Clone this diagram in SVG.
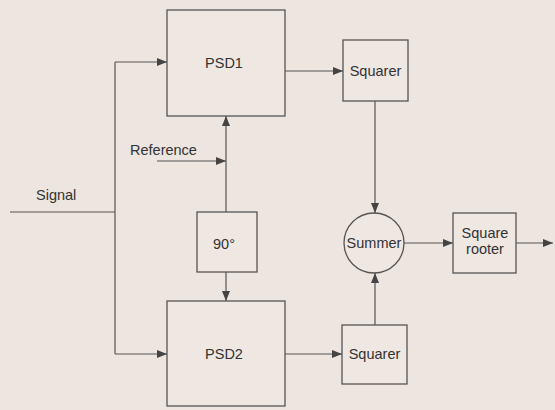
<svg xmlns="http://www.w3.org/2000/svg" width="555" height="410" viewBox="0 0 555 410">
<defs>
<marker id="arr" viewBox="0 0 10 8" refX="10" refY="4" markerWidth="10" markerHeight="8" markerUnits="userSpaceOnUse" orient="auto">
<path d="M0,0 L10,4 L0,8 Z" fill="#444"/>
</marker>
<style>
.box{fill:#eee7e2;stroke:#555;stroke-width:1.3}
.ln{fill:none;stroke:#555;stroke-width:1.2}
.t{font-family:"Liberation Sans",Arial,sans-serif;font-size:14.5px;fill:#333}
.c{text-anchor:middle}
</style>
</defs>
<rect width="555" height="410" fill="#ece5e0"/>
<g id="connectors">
<path class="ln" d="M10,212 H115"/>
<path class="ln" d="M115,62 V354"/>
<path class="ln" d="M115,62 H167" marker-end="url(#arr)"/>
<path class="ln" d="M115,354 H167" marker-end="url(#arr)"/>
<path class="ln" d="M157,161 H226" marker-end="url(#arr)"/>
<path class="ln" d="M226,212 V116" marker-end="url(#arr)"/>
<path class="ln" d="M226,272 V301" marker-end="url(#arr)"/>
<path class="ln" d="M285,71 H343" marker-end="url(#arr)"/>
<path class="ln" d="M285,354 H342" marker-end="url(#arr)"/>
<path class="ln" d="M375,101 V213" marker-end="url(#arr)"/>
<path class="ln" d="M375,325 V273" marker-end="url(#arr)"/>
<path class="ln" d="M404,243 H453" marker-end="url(#arr)"/>
<path class="ln" d="M516,243 H553" marker-end="url(#arr)"/>
</g>
<g id="signal"><text class="t" x="36" y="200">Signal</text></g>
<g id="reference"><text class="t" x="130" y="155">Reference</text></g>
<g id="psd1"><rect class="box" x="167" y="10" width="118" height="106"/><text class="t c" x="224" y="68">PSD1</text></g>
<g id="psd2"><rect class="box" x="167" y="301" width="118" height="105"/><text class="t c" x="224" y="359" font-size="15">PSD2</text></g>
<g id="phase90"><rect class="box" x="197" y="212" width="60" height="60"/><text class="t c" x="224" y="249">90°</text></g>
<g id="squarer1"><rect class="box" x="343" y="40" width="65" height="61"/><text class="t c" x="375.5" y="76" font-size="15">Squarer</text></g>
<g id="squarer2"><rect class="box" x="342" y="325" width="65" height="59"/><text class="t c" x="374.5" y="359" font-size="15">Squarer</text></g>
<g id="summer"><circle class="box" cx="374" cy="243" r="30"/><text class="t c" x="374" y="248" font-size="13.5">Summer</text></g>
<g id="rooter"><rect class="box" x="453" y="213" width="63" height="60"/><text class="t c" x="485" y="238" font-size="15">Square</text><text class="t c" x="485" y="254" font-size="15">rooter</text></g>
</svg>
